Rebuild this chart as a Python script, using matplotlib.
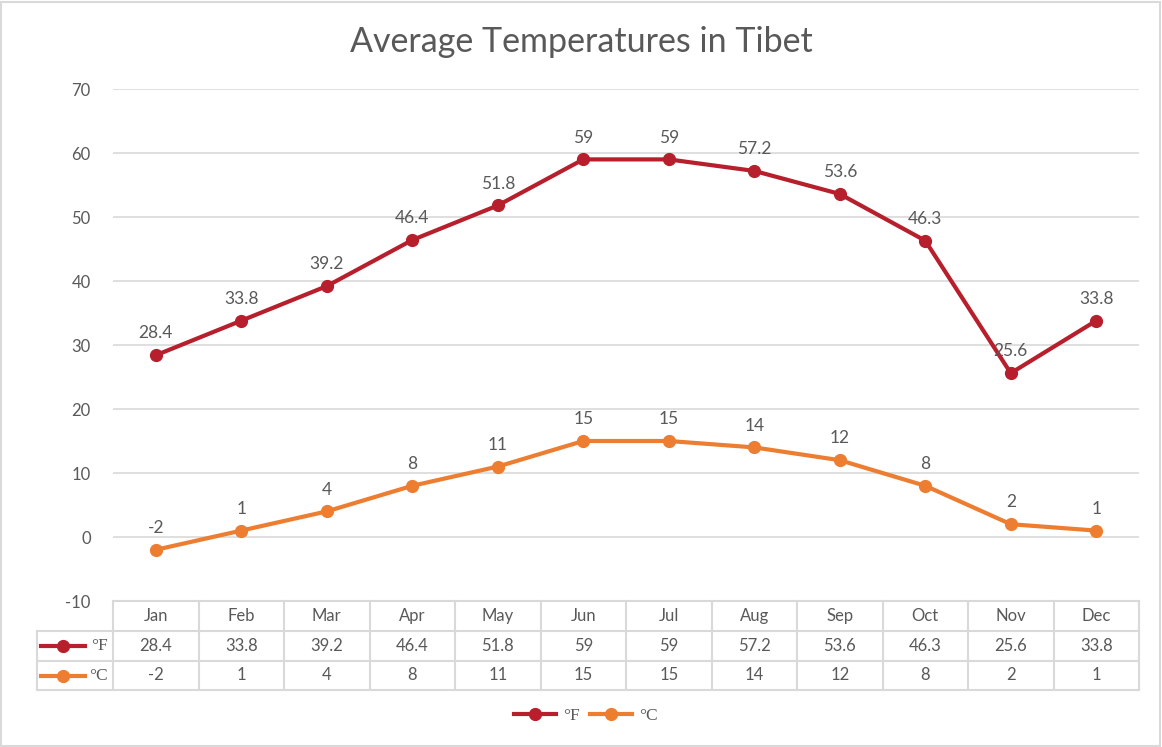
import matplotlib.pyplot as plt
import matplotlib.transforms as mtransforms
from matplotlib.lines import Line2D
from matplotlib.patches import Rectangle

months = ['Jan', 'Feb', 'Mar', 'Apr', 'May', 'Jun', 'Jul', 'Aug', 'Sep', 'Oct', 'Nov', 'Dec']
temp_f = [28.4, 33.8, 39.2, 46.4, 51.8, 59, 59, 57.2, 53.6, 46.3, 25.6, 33.8]
temp_c = [-2, 1, 4, 8, 11, 15, 15, 14, 12, 8, 2, 1]
series_names = ['°F', '°C']

RED = '#B61F2B'
ORANGE = '#ED7D31'
TXT = '#595959'
GRID = '#D9D9D9'

plt.rcParams['font.family'] = ['Lato', 'DejaVu Sans']
plt.rcParams['axes.unicode_minus'] = False

W, H = 1162, 747
fig = plt.figure(figsize=(W / 100, H / 100), dpi=100)

# chart border
fig.patches.append(Rectangle((1 / W, 1 / H), 1 - 3 / W, 1 - 3 / H, transform=fig.transFigure,
                             fill=False, edgecolor=GRID, linewidth=1.5))

left, right, top, bottom = 113, 1139, 89, 601
ax = fig.add_axes([left / W, 1 - bottom / H, (right - left) / W, (bottom - top) / H])
ax.set_xlim(-0.5, 11.5)
ax.set_ylim(-10, 70)
for s in ax.spines.values():
    s.set_visible(False)
ax.set_xticks([])
ax.set_yticks(range(-10, 71, 10))
ax.tick_params(axis='y', length=0, pad=16, labelsize=12, labelcolor=TXT)
for v in range(0, 71, 10):
    ax.axhline(v, color=GRID, linewidth=1.2, zorder=0)

x = list(range(len(months)))
for vals, col in [(temp_f, RED), (temp_c, ORANGE)]:
    ax.plot(x, vals, color=col, linewidth=3, marker='o', markersize=8.5, zorder=3)
    for xi, v in zip(x, vals):
        ax.annotate(f'{v:g}', (xi, v), xytext=(0, 10), textcoords='offset points',
                    ha='center', va='bottom', fontsize=12.5, color=TXT)

fig.text(581 / W, 1 - 42 / H, 'Average Temperatures in Tibet', fontsize=24.5, color=TXT,
         ha='center', va='center')

# data table below the plot
trans = mtransforms.blended_transform_factory(ax.transData, ax.transAxes)
ph = bottom - top
row_h = [30 / ph, 30 / ph, 29 / ph]
y_edges = [0]
for h in row_h:
    y_edges.append(y_edges[-1] - h)
lk = dict(color=GRID, linewidth=1.5, clip_on=False, transform=trans)
ax.add_line(Line2D([-0.5, 11.5], [y_edges[0]] * 2, **lk))
xl = -0.5 - 76 / 85.5
for ye in y_edges[1:]:
    ax.add_line(Line2D([xl, 11.5], [ye] * 2, **lk))
for xv in [i - 0.5 for i in range(13)]:
    ax.add_line(Line2D([xv, xv], [y_edges[0], y_edges[-1]], **lk))
ax.add_line(Line2D([xl, xl], [y_edges[1], y_edges[-1]], **lk))

rows = [months, [f'{v:g}' for v in temp_f], [f'{v:g}' for v in temp_c]]
for r, row in enumerate(rows):
    yc = (y_edges[r] + y_edges[r + 1]) / 2
    for xi, t in zip(x, row):
        ax.text(xi, yc, t, transform=trans, ha='center', va='center',
                fontsize=12, color=TXT)

# row headers with series keys
for r, (name, col) in enumerate(zip(series_names, [RED, ORANGE])):
    yc = (y_edges[r + 1] + y_edges[r + 2]) / 2
    ax.add_line(Line2D([xl + 4 / 85.5, xl + 48 / 85.5], [yc, yc], color=col, linewidth=3,
                       clip_on=False, transform=trans))
    ax.add_line(Line2D([xl + 26 / 85.5], [yc], color=col, marker='o', markersize=8.5,
                       clip_on=False, transform=trans))
    ax.text(xl + 71 / 85.5, yc, name, transform=trans, ha='right', va='center',
            fontsize=12.5, color=TXT, family='Liberation Serif')

handles = [Line2D([], [], color=c, linewidth=3, marker='o', markersize=8.5) for c in [RED, ORANGE]]
fig.legend(handles, series_names, loc='center', bbox_to_anchor=(586 / W, 1 - 716 / H), ncol=2,
           frameon=False, handlelength=2.4, columnspacing=0.6, handletextpad=0.4,
           prop={'family': 'Liberation Serif', 'size': 12.5}, labelcolor=TXT)

fig.savefig('out.png', dpi=100, facecolor='white')
